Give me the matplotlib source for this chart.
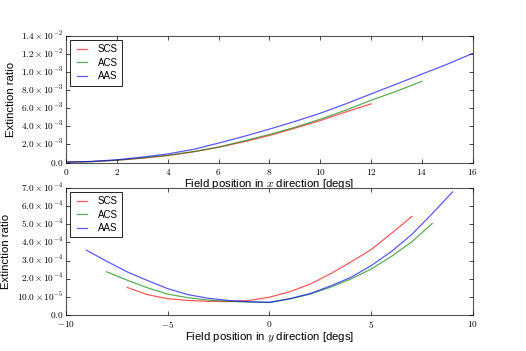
import matplotlib
matplotlib.use("Agg")
import matplotlib.pyplot as plt
from matplotlib.ticker import FixedLocator, FixedFormatter

plt.style.use("classic")
plt.rcParams["mathtext.fontset"] = "cm"
plt.rcParams["font.family"] = ["Liberation Sans", "DejaVu Sans"]
plt.rcParams["figure.facecolor"] = "white"
plt.rcParams["savefig.facecolor"] = "white"

# ---- top panel data (x direction) ----
x_scs = [0, 1, 2, 3, 4, 5, 6, 7, 8, 9, 10, 11, 12]
y_scs_x = [0.00004, 0.0001, 0.00025, 0.00048, 0.00077, 0.00118, 0.0017, 0.0023,
           0.0030, 0.0038, 0.00465, 0.0056, 0.0065]
x_acs = [0, 1, 2, 3, 4, 5, 6, 7, 8, 9, 10, 11, 12, 13, 14]
y_acs_x = [0.00004, 0.0001, 0.00026, 0.0005, 0.0008, 0.0012, 0.0017, 0.0024,
           0.0031, 0.0039, 0.0048, 0.0058, 0.0069, 0.0079, 0.0090]
x_aas = [0, 1, 2, 3, 4, 5, 6, 7, 8, 9, 10, 11, 12, 13, 14, 15, 16]
y_aas_x = [0.00005, 0.00012, 0.0003, 0.0006, 0.00095, 0.00145, 0.00215, 0.0029,
           0.0037, 0.00455, 0.00546, 0.0065, 0.0076, 0.0087, 0.0098, 0.0109, 0.0121]

# ---- bottom panel data (y direction) ----
yy_scs = [-7, -6, -5, -4, -3, -2, -1, 0, 1, 2, 3, 4, 5, 6, 7]
v_scs_y = [1.52e-4, 1.12e-4, 0.90e-4, 0.80e-4, 0.75e-4, 0.74e-4, 0.80e-4, 0.98e-4,
           1.28e-4, 1.70e-4, 2.27e-4, 2.92e-4, 3.60e-4, 4.50e-4, 5.43e-4]
yy_acs = [-8, -7, -6, -5, -4, -3, -2, -1, 0, 1, 2, 3, 4, 5, 6, 7, 8]
v_acs_y = [2.38e-4, 1.92e-4, 1.50e-4, 1.15e-4, 0.95e-4, 0.82e-4, 0.75e-4, 0.71e-4,
           0.69e-4, 0.88e-4, 1.15e-4, 1.53e-4, 1.98e-4, 2.53e-4, 3.23e-4, 4.03e-4, 5.04e-4]
yy_aas = [-9, -8, -7, -6, -5, -4, -3, -2, -1, 0, 1, 2, 3, 4, 5, 6, 7, 8, 9]
v_aas_y = [3.57e-4, 2.96e-4, 2.38e-4, 1.90e-4, 1.45e-4, 1.12e-4, 0.92e-4, 0.80e-4,
           0.73e-4, 0.70e-4, 0.90e-4, 1.18e-4, 1.60e-4, 2.07e-4, 2.72e-4, 3.50e-4,
           4.44e-4, 5.58e-4, 6.78e-4]

series_names = ["SCS", "ACS", "AAS"]
series_colors = ["r", "g", "b"]

top_yticks = [0, 0.002, 0.004, 0.006, 0.008, 0.010, 0.012, 0.014]
top_ylabels = [r"$0.0$", r"$2.0\times10^{-3}$", r"$4.0\times10^{-3}$", r"$6.0\times10^{-3}$",
               r"$8.0\times10^{-3}$", r"$1.0\times10^{-3}$", r"$1.2\times10^{-2}$",
               r"$1.4\times10^{-2}$"]
top_xticks = [0, 2, 4, 6, 8, 10, 12, 14, 16]
top_xlabels = [r"$%d$" % v for v in top_xticks]

bot_yticks = [0, 1e-4, 2e-4, 3e-4, 4e-4, 5e-4, 6e-4, 7e-4]
bot_ylabels = [r"$0.0$", r"$10.0\times10^{-5}$", r"$2.0\times10^{-4}$", r"$3.0\times10^{-4}$",
               r"$4.0\times10^{-4}$", r"$5.0\times10^{-4}$", r"$6.0\times10^{-4}$",
               r"$7.0\times10^{-4}$"]
bot_xticks = [-10, -5, 0, 5, 10]
bot_xlabels = [r"$-10$", r"$-5$", r"$0$", r"$5$", r"$10$"]

fig = plt.figure(figsize=(5.26, 3.51), dpi=100)
ax1 = fig.add_axes([0.1255, 0.537, 0.7735, 0.360])
ax2 = fig.add_axes([0.1255, 0.1026, 0.7735, 0.362])

fs_tick = 6.7
fs_label = 8.2

for xs, ys, name, c in zip([x_scs, x_acs, x_aas], [y_scs_x, y_acs_x, y_aas_x],
                           series_names, series_colors):
    ax1.plot(xs, ys, color=c, alpha=0.65, lw=0.9, label=name)
for xs, ys, name, c in zip([yy_scs, yy_acs, yy_aas], [v_scs_y, v_acs_y, v_aas_y],
                           series_names, series_colors):
    ax2.plot(xs, ys, color=c, alpha=0.65, lw=0.9, label=name)

ax1.set_xlim(0, 16)
ax1.set_ylim(0, 0.014)
ax1.yaxis.set_major_locator(FixedLocator(top_yticks))
ax1.yaxis.set_major_formatter(FixedFormatter(top_ylabels))
ax1.xaxis.set_major_locator(FixedLocator(top_xticks))
ax1.xaxis.set_major_formatter(FixedFormatter(top_xlabels))
ax1.set_xlabel(r"Field position in $x$ direction [degs]", fontsize=fs_label, labelpad=0)
ax1.set_ylabel("Extinction ratio", fontsize=fs_label, labelpad=4)

ax2.set_xlim(-10, 10)
ax2.set_ylim(0, 7e-4)
ax2.yaxis.set_major_locator(FixedLocator(bot_yticks))
ax2.yaxis.set_major_formatter(FixedFormatter(bot_ylabels))
ax2.xaxis.set_major_locator(FixedLocator(bot_xticks))
ax2.xaxis.set_major_formatter(FixedFormatter(bot_xlabels))
ax2.set_xlabel(r"Field position in $y$ direction [degs]", fontsize=fs_label, labelpad=0)
ax2.set_ylabel("Extinction ratio", fontsize=fs_label, labelpad=4)

for ax in (ax1, ax2):
    ax.tick_params(axis="both", which="major", labelsize=fs_tick, length=3, width=0.5,
                   direction="in", top=True, right=True)
    ax.tick_params(axis="x", pad=3)
    ax.tick_params(axis="y", pad=2)
    for s in ax.spines.values():
        s.set_linewidth(0.8)
        s.set_color("#555555")
    leg = ax.legend(loc="upper left", fontsize=7.0, handlelength=1.6, borderpad=0.45,
                    labelspacing=0.35, handletextpad=0.8, borderaxespad=0.4, frameon=True)
    leg.get_frame().set_linewidth(0.6)
    leg.get_frame().set_edgecolor("black")

fig.savefig("out.png", dpi=100)
